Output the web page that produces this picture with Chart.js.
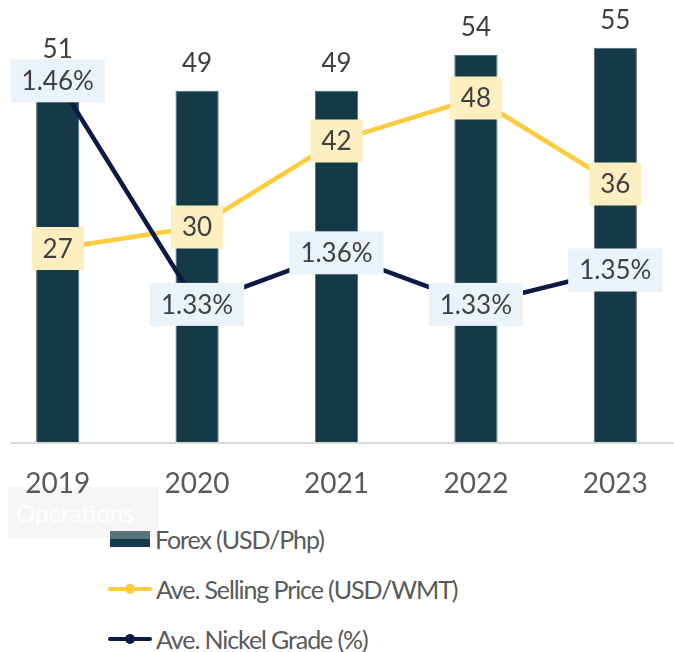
<!DOCTYPE html>
<html>
<head>
<meta charset="utf-8">
<script src="https://cdn.jsdelivr.net/npm/chart.js@4/dist/chart.umd.min.js"></script>
<style>
    body { margin: 0; background: #fff; overflow: hidden; font-family: Lato, sans-serif; }
    #wrap { position: absolute; left: -12px; top: 0; width: 697px; height: 500px; z-index: 1; }
    #ops { position: absolute; left: 8px; top: 487px; width: 151px; height: 51px; background: #f6f6f6; z-index: 0;
           color: #fff; font-size: 24px; line-height: 51px; padding-left: 8px; box-sizing: border-box; }
    #legend { position: absolute; left: 108px; top: 514px; z-index: 2; }
    .row { display: flex; align-items: center; height: 50px; color: #595959; font-size: 25px; letter-spacing: -1.1px; }
    .sw { width: 44px; height: 18px; margin-right: 4px; position: relative; }
</style>
</head>
<body>
<div id="ops">Operations</div>
<div id="wrap"><canvas id="chart"></canvas></div>
<div id="legend"></div>
<script>
// categories and series
const years = ['2019', '2020', '2021', '2022', '2023'];
const forex = [51, 49, 49, 54, 55];
const sellingPrice = [27, 30, 42, 48, 36];
const nickelGrade = [1.46, 1.33, 1.36, 1.33, 1.35];

const barColor = '#133a46';
const priceColor = '#fecc3e';
const gradeColor = '#0c1a45';
const labelFont = '26px Lato';

// baseline under the bars
const baseline = {
    id: 'baseline',
    beforeDatasetsDraw(chart) {
        const { ctx, chartArea } = chart;
        ctx.save();
        ctx.strokeStyle = '#d9d9d9';
        ctx.lineWidth = 2;
        ctx.beginPath();
        ctx.moveTo(23, chartArea.bottom + 1);
        ctx.lineTo(chartArea.right, chartArea.bottom + 1);
        ctx.stroke();
        ctx.restore();
    }
};

// value labels: plain text above bars, boxed text on the line points
const valueLabels = {
    id: 'valueLabels',
    afterDatasetsDraw(chart) {
        const ctx = chart.ctx;
        ctx.save();
        ctx.font = labelFont;
        ctx.textAlign = 'center';
        ctx.textBaseline = 'middle';

        chart.getDatasetMeta(0).data.forEach((bar, i) => {
            ctx.fillStyle = '#404040';
            ctx.fillText(forex[i], bar.x, bar.y - 27);
        });

        const boxed = (idx, values, fmt, bg) => {
            chart.getDatasetMeta(idx).data.forEach((pt, i) => {
                const text = fmt(values[i]);
                const w = ctx.measureText(text).width + 22;
                const h = 43;
                ctx.fillStyle = bg;
                ctx.fillRect(pt.x - w / 2, pt.y - h / 2, w, h);
                ctx.fillStyle = '#404040';
                ctx.fillText(text, pt.x, pt.y + 1);
            });
        };
        boxed(1, sellingPrice, v => String(v), '#fdefc0');
        boxed(2, nickelGrade, v => v.toFixed(2) + '%', '#eaf2fa');
        ctx.restore();
    }
};

const ctx = document.getElementById('chart').getContext('2d');
const chart = new Chart(ctx, {
    data: {
        labels: years,
        datasets: [
            {
                type: 'bar',
                label: 'Forex (USD/Php)',
                data: forex,
                yAxisID: 'y',
                backgroundColor: barColor,
                borderColor: '#4f6e76',
                borderWidth: 1,
                categoryPercentage: 1,
                barPercentage: 0.31,
                order: 3
            },
            {
                type: 'line',
                label: 'Ave. Selling Price (USD/WMT)',
                data: sellingPrice,
                yAxisID: 'y',
                borderColor: priceColor,
                backgroundColor: priceColor,
                borderWidth: 4.5,
                pointRadius: 0,
                tension: 0,
                order: 2
            },
            {
                type: 'line',
                label: 'Ave. Nickel Grade (%)',
                data: nickelGrade,
                yAxisID: 'y2',
                borderColor: gradeColor,
                backgroundColor: gradeColor,
                borderWidth: 4.5,
                pointRadius: 0,
                tension: 0,
                order: 1
            }
        ]
    },
    options: {
        responsive: true,
        maintainAspectRatio: false,
        animation: false,
        layout: { padding: { top: 12, left: 0, right: 0, bottom: 0 } },
        plugins: { legend: { display: false }, tooltip: { enabled: false } },
        scales: {
            x: {
                grid: { display: false, drawTicks: false },
                border: { display: false },
                ticks: { color: '#595959', font: { family: 'Lato', size: 28 }, padding: 25, autoSkip: false, maxRotation: 0 },
                afterFit: (scale) => { scale.height = 58; }
            },
            y: { display: false, min: 0, max: 60 },
            y2: { display: false, min: 1.25, max: 1.5, position: 'right' }
        }
    },
    plugins: [baseline, valueLabels]
});

// legend listed vertically under the chart
const legend = document.getElementById('legend');
chart.data.datasets.forEach((ds) => {
    const row = document.createElement('div');
    row.className = 'row';
    const sw = document.createElement('div');
    sw.className = 'sw';
    if (ds.type === 'bar') {
        sw.style.height = '16px';
        sw.style.width = '40px';
        sw.style.margin = '0 5px 0 2px';
        sw.style.background = 'linear-gradient(#58737a 50%, ' + barColor + ' 50%)';
    } else {
        sw.innerHTML = '<div style="position:absolute;left:0;right:0;top:7px;height:4px;border-radius:2px;background:' + ds.borderColor + '"></div>' +
            '<div style="position:absolute;left:17px;top:4px;width:10px;height:10px;border-radius:5px;background:' + ds.borderColor + '"></div>';
    }
    const txt = document.createElement('span');
    txt.textContent = ds.label;
    row.appendChild(sw);
    row.appendChild(txt);
    legend.appendChild(row);
});
</script>
</body>
</html>
